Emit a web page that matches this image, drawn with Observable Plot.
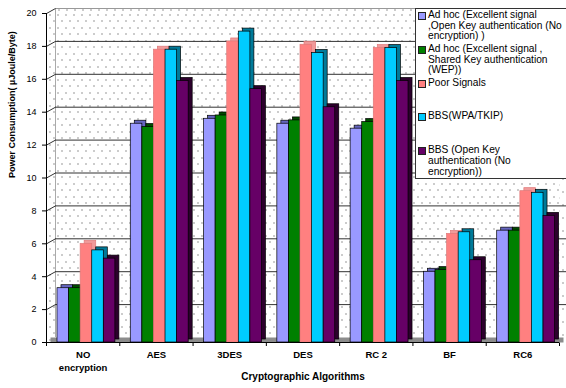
<!DOCTYPE html>
<html>
<head>
<meta charset="utf-8">
<script src="https://cdn.jsdelivr.net/npm/d3@7"></script>
<script src="https://cdn.jsdelivr.net/npm/@observablehq/plot@0.6"></script>
<style>
  body { margin: 0; background: #fff; overflow: hidden; font-family: "Liberation Sans", Arial, sans-serif; }
  #chart { position: relative; width: 566px; height: 388px; overflow: hidden; }
  #legend { position: absolute; left: 415px; top: 8px; width: 170px; height: 169px; border: 1px solid #333; background: #fff; font-size: 10.2px; line-height: 10.7px; color: #000; }
  .entry { position: absolute; left: 12px; white-space: nowrap; }
  .swatch { position: absolute; left: -10px; top: 2px; width: 6px; height: 6px; border: 1px solid #222; }
</style>
</head>
<body>
<div id="chart"></div>
<script>
// Cryptographic algorithms on the x axis
const categories = ["NO\nencryption", "AES", "3DES", "DES", "RC 2", "BF", "RC6"];

// Power consumption (µJoule/Byte) per network setting, one value per algorithm
const adhocOpen   = [3.3, 13.3, 13.6, 13.3, 13.0, 4.3, 6.8];
const adhocShared = [3.3, 13.1, 13.8, 13.5, 13.4, 4.4, 6.8];
const poorSignals = [6.0, 17.8, 18.3, 18.1, 17.9, 6.6, 9.2];
const bbsWpa      = [5.6, 17.8, 18.9, 17.6, 17.9, 6.7, 9.1];
const bbsOpen     = [5.1, 15.9, 15.4, 14.3, 15.9, 5.0, 7.7];

const seriesLabels = [
  ["Ad hoc (Excellent signal", ",Open Key authentication (No", "encryption) )"],
  ["Ad hoc (Excellent signal ,", "Shared Key authentication", "(WEP))"],
  ["Poor Signals"],
  ["BBS(WPA/TKIP)"],
  ["BBS (Open Key", "authentication (No", "encryption))"]
];
const yTicks = [0, 2, 4, 6, 8, 10, 12, 14, 16, 18, 20];

const seriesValues = [adhocOpen, adhocShared, poorSignals, bbsWpa, bbsOpen];
const faceColors = ["#9999ff", "#008000", "#ff8080", "#00ccff", "#660066"];
const sideColors = ["#6666c0", "#004a00", "#f09a9a", "#007a99", "#2c002c"];
const edgeColors = ["#000", "#000", "#e07a7a", "#000", "#000"];

// rows: one per (algorithm, setting)
const rows = seriesValues.flatMap((vals, s) =>
  vals.map((value, ci) => ({ ci, s, value, category: categories[ci] }))
);

// bar layout inside each algorithm slot (x is in slot units)
const BAR_START = 0.15, BAR_W = 0.158;
// 3D wall offset expressed in scale units
const WALL_X = 9 / 73.3, WALL_Y = 5 / 16.45;

const barMarks = seriesValues.flatMap((_, s) => {
  const data = rows.filter(d => d.s === s);
  const x1 = d => d.ci + BAR_START + d.s * BAR_W;
  const x2 = d => d.ci + BAR_START + (d.s + 1) * BAR_W;
  return [
    Plot.rectY(data, { x1, x2, y1: 0, y2: "value", dx: 4, dy: -3, fill: sideColors[s], stroke: edgeColors[s], strokeWidth: 0.7 }),
    Plot.rectY(data, { x1, x2, y1: 0, y2: "value", fill: faceColors[s], stroke: edgeColors[s], strokeWidth: 0.7 })
  ];
});

const chart = Plot.plot({
  width: 566,
  height: 388,
  marginLeft: 46,
  marginRight: 7,
  marginTop: 13,
  marginBottom: 46,
  style: { fontFamily: "'Liberation Sans', Arial, sans-serif", fontSize: "9px", background: "#fff" },
  x: { type: "linear", domain: [0, categories.length], ticks: d3.range(categories.length + 1), tickSize: 4, tickFormat: () => "", label: null },
  y: { domain: [0, 20], ticks: yTicks, tickSize: 4, tickPadding: 6, label: null },
  marks: [
    // back wall and side wall with dotted fill
    Plot.frame({ fill: "url(#dots)", dx: 9, dy: -5 }),
    Plot.frame({ fill: "url(#dots)" }),
    Plot.ruleX([0], { dx: 9, dy: -5, stroke: "#aaa" }),
    Plot.ruleY(yTicks.filter(v => v > 0 && v < 20), { dx: 9, dy: -5, stroke: "#333" }),
    Plot.ruleY([20], { dx: 9, dy: -5, stroke: "#999" }),
    Plot.link(yTicks.filter(v => v > 0), { x1: 0, y1: d => d, x2: WALL_X, y2: d => d + WALL_Y, stroke: "#333" }),
    // floor
    Plot.ruleY([0], { stroke: "#8c8c8c", strokeWidth: 5, dx: 4.5, dy: -2.5 }),
    ...barMarks,
    // front axes
    Plot.ruleX([0], { stroke: "#000" }),
    Plot.ruleY([0], { stroke: "#000" }),
    Plot.text(categories, { x: (d, i) => i + 0.5, frameAnchor: "bottom", dy: 7, lineAnchor: "top", lineHeight: 1.3, fontWeight: "bold", fontSize: 9.5, text: d => d }),
    Plot.text(["Cryptographic Algorithms"], { frameAnchor: "bottom", dy: 37, fontWeight: "bold", fontSize: 10, text: d => d }),
    Plot.text(["Power Consumption( µJoule/Byte)"], { frameAnchor: "left", dx: -34, rotate: -90, fontWeight: "bold", fontSize: 9, text: d => d })
  ]
});

// dotted wall pattern
const defs = d3.select(chart).insert("defs", ":first-child");
const pat = defs.append("pattern").attr("id", "dots").attr("patternUnits", "userSpaceOnUse")
  .attr("width", 8).attr("height", 13);
pat.append("rect").attr("width", 8).attr("height", 13).attr("fill", "#fff");
pat.append("rect").attr("x", 1).attr("y", 1).attr("width", 1).attr("height", 1).attr("fill", "#333");
pat.append("rect").attr("x", 5).attr("y", 7).attr("width", 1).attr("height", 1).attr("fill", "#333");

const root = document.getElementById("chart");
root.appendChild(chart);

// legend box in the upper right
const legend = document.createElement("div");
legend.id = "legend";
seriesLabels.forEach((lines, s) => {
  const e = document.createElement("div");
  e.className = "entry";
  e.style.top = (1 + s * 33.8) + "px";
  const sw = document.createElement("span");
  sw.className = "swatch";
  sw.style.background = faceColors[s];
  e.appendChild(sw);
  lines.forEach((t, k) => {
    if (k) e.appendChild(document.createElement("br"));
    e.appendChild(document.createTextNode(t));
  });
  legend.appendChild(e);
});
root.appendChild(legend);
</script>
</body>
</html>
